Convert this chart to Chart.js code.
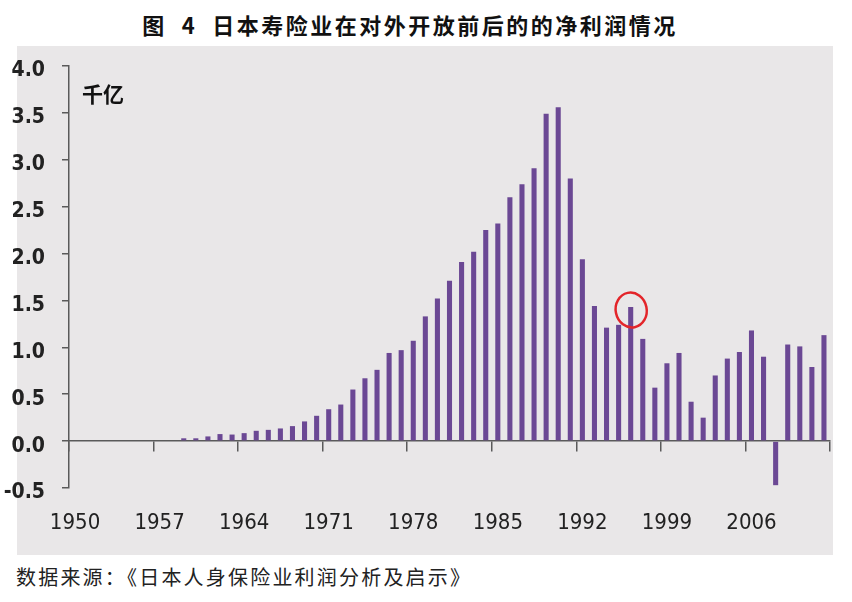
<!DOCTYPE html>
<html>
<head>
<meta charset="utf-8">
<script src="https://cdn.jsdelivr.net/npm/chart.js@4.4.0/dist/chart.umd.min.js"></script>
<style>
  body { margin: 0; width: 852px; height: 602px; background: #fff; position: relative; overflow: hidden; }
  #paper { position: absolute; left: 17px; top: 46px; width: 816px; height: 509px; background: #e9e7e8; }
  #title { position: absolute; left: 0; width: 820px; top: 8px; text-align: center; font: bold 22px "Noto Sans CJK SC"; color: #111; letter-spacing: 2.5px; white-space: pre; }
  #unit { position: absolute; left: 82px; top: 78px; font: bold 21px "Noto Sans CJK SC"; color: #111; }
  #source { position: absolute; left: 16px; top: 562px; font: 20px "Noto Sans CJK SC"; color: #222; letter-spacing: 2.2px; }
  #wrap { position: absolute; left: 0; top: 0; width: 852px; height: 602px; }
</style>
</head>
<body>
<div id="paper"></div>
<div id="title">图  4  日本寿险业在对外开放前后的的净利润情况</div>
<div id="source">数据来源：《日本人身保险业利润分析及启示》</div>
<div id="wrap"><canvas id="profitChart" width="852" height="602"></canvas></div>
<div id="unit">千亿</div>
<script>
// years 1950..2012
const years = [];
for (let y = 1950; y <= 2012; y++) years.push(String(y));

// net profit, hundred billion yen (千亿), null = no bar
const profit = [
  null, null, null, null, null, null, null, null, null,   // 1950-1958
  0.03, 0.03, 0.05, 0.075, 0.07, 0.085, 0.11, 0.12, 0.135, 0.16, 0.21, 0.27, // 1959-1970
  0.34, 0.39, 0.55, 0.67, 0.76, 0.94, 0.97, 1.07, 1.33, 1.52,               // 1971-1980
  1.71, 1.91, 2.02, 2.25, 2.32, 2.60, 2.74, 2.91, 3.49, 3.56,               // 1981-1990
  2.80, 1.94, 1.44, 1.21, 1.24, 1.43, 1.09, 0.57, 0.83, 0.94,               // 1991-2000
  0.42, 0.25, 0.70, 0.88, 0.95, 1.18, 0.90, -0.47, 1.03, 1.01,              // 2001-2010
  0.79, 1.13                                                                // 2011-2012
];

const xTickLabels = ['1950', '1957', '1964', '1971', '1978', '1985', '1992', '1999', '2006'];
const yTicks = [-0.5, 0, 0.5, 1, 1.5, 2, 2.5, 3, 3.5, 4];
const markedYear = '1996';

const axisColor = '#5a5a5a';
const labelFont = '"Liberation Sans Narrow", "DejaVu Sans Condensed", sans-serif';

// hand-drawn red circle round the 1996 bar
const circlePlugin = {
  id: 'circle',
  afterDatasetsDraw(chart) {
    const x = chart.scales.x.getPixelForValue(years.indexOf(markedYear));
    const y = chart.scales.y.getPixelForValue(profit[years.indexOf(markedYear)]) + 3;
    const c = chart.ctx;
    c.save();
    c.strokeStyle = '#e3252a';
    c.lineWidth = 2.5;
    c.beginPath();
    c.ellipse(x + 0.5, y, 15.5, 17.5, -0.2, 0, Math.PI * 2);
    c.stroke();
    c.restore();
  }
};

const ctx = document.getElementById('profitChart').getContext('2d');
new Chart(ctx, {
  type: 'bar',
  data: {
    labels: years,
    datasets: [{
      data: profit,
      backgroundColor: '#6b4894',
      barPercentage: 0.42,
      categoryPercentage: 1.0,
      xAxisID: 'x',
      yAxisID: 'y'
    }]
  },
  options: {
    responsive: false,
    animation: false,
    layout: { padding: { top: 66, right: 22, left: 0, bottom: 0 } },
    plugins: {
      legend: { display: false },
      tooltip: { enabled: false }
    },
    scales: {
      x: {
        type: 'category',
        offset: true,
        grid: { display: false, drawTicks: false },
        border: { display: false },
        ticks: {
          autoSkip: false,
          maxRotation: 0,
          minRotation: 0,
          padding: 22,
          color: '#222',
          font: { family: labelFont, size: 22 },
          callback: function(value) {
            const label = this.getLabelForValue(value);
            return xTickLabels.includes(label) ? label : '';
          }
        },
        afterFit: (scale) => { scale.height = 602 - 488; }
      },
      x2: {
        type: 'category',
        axis: 'x',
        labels: years,
        offset: true,
        position: { y: 0 },
        grid: {
          offset: true,
          drawOnChartArea: false,
          drawTicks: true,
          tickLength: 10,
          lineWidth: 1.5,
          color: (c) => (c.index === undefined || c.index % 7 === 0) ? axisColor : 'rgba(0,0,0,0)'
        },
        border: { display: true, color: axisColor, width: 1.5 },
        ticks: { display: false }
      },
      y: {
        min: -0.5,
        max: 4.0,
        afterBuildTicks: (scale) => { scale.ticks = yTicks.map(v => ({ value: v })); },
        grid: { drawOnChartArea: false, drawTicks: true, tickLength: 7, lineWidth: 1.5, color: axisColor },
        border: { display: true, color: axisColor, width: 1.5 },
        ticks: {
          padding: 17,
          labelOffset: 5,
          color: '#222',
          font: { family: labelFont, size: 21, weight: 'bold' },
          callback: (v) => Number(v).toFixed(1)
        },
        afterFit: (scale) => { scale.width = 69; }
      }
    }
  },
  plugins: [circlePlugin]
});
</script>
</body>
</html>
